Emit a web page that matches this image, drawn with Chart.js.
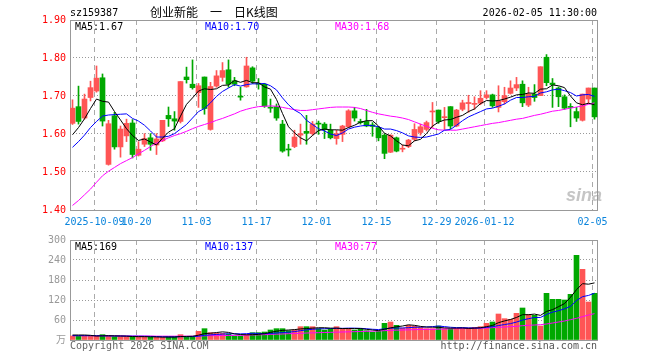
<!DOCTYPE html>
<html lang="zh-CN">

<head>
  <meta charset="UTF-8">
  <title>创业新能 日K线图</title>
  <script src="https://cdn.jsdelivr.net/npm/chart.js"></script>
  <style>
    body { margin: 0; background: #fff; }
    #wrap { position: relative; width: 660px; height: 360px; overflow: hidden;
      font-family: 'DejaVu Sans Mono', monospace; font-size: 10px; line-height: 10px; }
    canvas { position: absolute; left: 0; }
    .txt { position: absolute; white-space: pre; }
  </style>
</head>

<body>
  <div id="wrap">
    <canvas id="kChart" width="660" height="230" style="top:0"></canvas>
    <canvas id="volChart" width="660" height="130" style="top:230px"></canvas>

    <div class="txt" style="left:70px;top:8px;color:#000">sz159387</div>
    <div class="txt" style="left:150px;top:6px;font-family:'Noto Sans CJK SC',sans-serif;font-size:12px;line-height:12px;color:#000">创业新能　一　日K线图</div>
    <div class="txt" style="right:63px;top:8px;color:#000">2026-02-05 11:30:00</div>

    <div class="txt" style="left:75px;top:21.5px;color:#000">MA5:1.67</div>
    <div class="txt" style="left:205px;top:21.5px;color:#0000ff">MA10:1.70</div>
    <div class="txt" style="left:335px;top:21.5px;color:#ff00ff">MA30:1.68</div>

    <div class="txt" style="left:566px;top:186px;font-family:'Liberation Sans',sans-serif;font-size:18px;line-height:18px;font-weight:bold;font-style:italic;color:rgba(150,150,150,0.55)">sina</div>

    <div class="txt" style="left:75px;top:241.5px;color:#000">MA5:169</div>
    <div class="txt" style="left:205px;top:241.5px;color:#0000ff">MA10:137</div>
    <div class="txt" style="left:335px;top:241.5px;color:#ff00ff">MA30:77</div>

    <div class="txt" style="left:70px;top:341px;color:#666">Copyright 2026 SINA.COM</div>
    <div class="txt" style="right:63px;top:341px;color:#555">http://finance.sina.com.cn</div>
  </div>

  <script>
    var dates = [
      '2025-09-25', '2025-09-26', '2025-09-29', '2025-09-30',
      '2025-10-09', '2025-10-10', '2025-10-13', '2025-10-14', '2025-10-15', '2025-10-16', '2025-10-17',
      '2025-10-20', '2025-10-21', '2025-10-22', '2025-10-23', '2025-10-24', '2025-10-27', '2025-10-28',
      '2025-10-29', '2025-10-30', '2025-10-31',
      '2025-11-03', '2025-11-04', '2025-11-05', '2025-11-06', '2025-11-07', '2025-11-10', '2025-11-11',
      '2025-11-12', '2025-11-13', '2025-11-14', '2025-11-17', '2025-11-18', '2025-11-19', '2025-11-20',
      '2025-11-21', '2025-11-24', '2025-11-25', '2025-11-26', '2025-11-27', '2025-11-28',
      '2025-12-01', '2025-12-02', '2025-12-03', '2025-12-04', '2025-12-05', '2025-12-08', '2025-12-09',
      '2025-12-10', '2025-12-11', '2025-12-12', '2025-12-15', '2025-12-16', '2025-12-17', '2025-12-18',
      '2025-12-19', '2025-12-22', '2025-12-23', '2025-12-24', '2025-12-25', '2025-12-26', '2025-12-29',
      '2025-12-30', '2025-12-31',
      '2026-01-05', '2026-01-06', '2026-01-07', '2026-01-08', '2026-01-09', '2026-01-12', '2026-01-13',
      '2026-01-14', '2026-01-15', '2026-01-16', '2026-01-19', '2026-01-20', '2026-01-21', '2026-01-22',
      '2026-01-23', '2026-01-26', '2026-01-27', '2026-01-28', '2026-01-29', '2026-01-30',
      '2026-02-02', '2026-02-03', '2026-02-04', '2026-02-05'
    ];

    var opens = [
      1.628, 1.672, 1.642, 1.696, 1.713, 1.748, 1.520, 1.648, 1.566, 1.595,
      1.629, 1.544, 1.573, 1.590, 1.571, 1.582, 1.649, 1.640, 1.633, 1.750,
      1.731, 1.709, 1.750, 1.612, 1.726, 1.749, 1.769, 1.740, 1.699, 1.724,
      1.774, 1.733, 1.731, 1.670, 1.672, 1.626, 1.560, 1.567, 1.597, 1.607,
      1.601, 1.628, 1.626, 1.610, 1.588, 1.599, 1.619, 1.661, 1.633, 1.633,
      1.624, 1.617, 1.597, 1.552, 1.590, 1.560, 1.567, 1.586, 1.604, 1.612,
      1.658, 1.663, 1.643, 1.672, 1.621, 1.665, 1.680, 1.678, 1.681, 1.696,
      1.703, 1.670, 1.685, 1.707, 1.721, 1.731, 1.676, 1.705, 1.701, 1.802,
      1.734, 1.721, 1.698, 1.672, 1.659, 1.636, 1.692, 1.721
    ];
    var highs = [
      1.690, 1.726, 1.705, 1.739, 1.779, 1.758, 1.636, 1.657, 1.621, 1.639,
      1.638, 1.580, 1.601, 1.601, 1.601, 1.636, 1.671, 1.659, 1.738, 1.776,
      1.795, 1.733, 1.750, 1.736, 1.767, 1.788, 1.795, 1.749, 1.723, 1.802,
      1.777, 1.746, 1.733, 1.692, 1.679, 1.636, 1.573, 1.610, 1.626, 1.649,
      1.633, 1.634, 1.630, 1.626, 1.610, 1.623, 1.664, 1.670, 1.639, 1.665,
      1.630, 1.619, 1.601, 1.598, 1.592, 1.571, 1.586, 1.627, 1.626, 1.634,
      1.683, 1.663, 1.670, 1.672, 1.665, 1.689, 1.702, 1.698, 1.714, 1.714,
      1.705, 1.727, 1.723, 1.740, 1.749, 1.740, 1.723, 1.730, 1.777, 1.809,
      1.746, 1.724, 1.703, 1.680, 1.670, 1.705, 1.721, 1.721
    ];
    var lows = [
      1.625, 1.626, 1.639, 1.687, 1.710, 1.621, 1.518, 1.560, 1.539, 1.580,
      1.537, 1.542, 1.567, 1.557, 1.546, 1.580, 1.620, 1.610, 1.629, 1.734,
      1.718, 1.670, 1.652, 1.610, 1.723, 1.739, 1.723, 1.727, 1.689, 1.723,
      1.733, 1.718, 1.670, 1.657, 1.636, 1.552, 1.542, 1.564, 1.573, 1.573,
      1.597, 1.599, 1.588, 1.587, 1.573, 1.580, 1.617, 1.634, 1.626, 1.619,
      1.594, 1.582, 1.535, 1.551, 1.553, 1.553, 1.564, 1.582, 1.597, 1.608,
      1.617, 1.628, 1.612, 1.614, 1.619, 1.661, 1.657, 1.665, 1.677, 1.692,
      1.670, 1.658, 1.679, 1.705, 1.714, 1.672, 1.672, 1.686, 1.701, 1.727,
      1.670, 1.672, 1.665, 1.619, 1.633, 1.634, 1.680, 1.639
    ];
    var closes = [
      1.668, 1.633, 1.692, 1.722, 1.747, 1.634, 1.627, 1.566, 1.613, 1.628,
      1.546, 1.560, 1.588, 1.573, 1.587, 1.636, 1.640, 1.634, 1.738, 1.743,
      1.722, 1.727, 1.667, 1.725, 1.753, 1.767, 1.731, 1.731, 1.697, 1.779,
      1.739, 1.731, 1.673, 1.668, 1.642, 1.555, 1.558, 1.592, 1.601, 1.602,
      1.626, 1.626, 1.612, 1.590, 1.601, 1.621, 1.661, 1.642, 1.630, 1.621,
      1.620, 1.590, 1.549, 1.597, 1.555, 1.562, 1.584, 1.612, 1.619, 1.630,
      1.660, 1.633, 1.645, 1.621, 1.663, 1.682, 1.683, 1.680, 1.694, 1.703,
      1.674, 1.687, 1.701, 1.721, 1.730, 1.682, 1.705, 1.696, 1.777, 1.735,
      1.730, 1.698, 1.668, 1.670, 1.642, 1.705, 1.721, 1.645
    ];

    var ma5 = [
      1.598, 1.617, 1.640, 1.667, 1.692, 1.686, 1.684, 1.659, 1.637, 1.614,
      1.596, 1.583, 1.587, 1.579, 1.571, 1.589, 1.605, 1.614, 1.647, 1.678,
      1.695, 1.713, 1.719, 1.717, 1.719, 1.728, 1.729, 1.741, 1.736, 1.741,
      1.735, 1.735, 1.724, 1.718, 1.691, 1.654, 1.619, 1.603, 1.590, 1.582,
      1.596, 1.609, 1.613, 1.611, 1.611, 1.610, 1.617, 1.623, 1.631, 1.635,
      1.635, 1.621, 1.602, 1.595, 1.582, 1.571, 1.569, 1.582, 1.586, 1.601,
      1.621, 1.631, 1.637, 1.638, 1.644, 1.649, 1.659, 1.666, 1.680, 1.688,
      1.687, 1.688, 1.692, 1.697, 1.703, 1.704, 1.708, 1.707, 1.718, 1.719,
      1.729, 1.727, 1.722, 1.700, 1.682, 1.677, 1.681, 1.677
    ];
    var ma10 = [
      1.565, 1.580, 1.597, 1.617, 1.633, 1.647, 1.650, 1.651, 1.652, 1.653,
      1.641, 1.634, 1.623, 1.608, 1.592, 1.592, 1.594, 1.601, 1.613, 1.625,
      1.642, 1.659, 1.667, 1.682, 1.699, 1.712, 1.721, 1.730, 1.726, 1.730,
      1.732, 1.732, 1.733, 1.727, 1.716, 1.695, 1.677, 1.663, 1.654, 1.636,
      1.625, 1.614, 1.608, 1.600, 1.596, 1.603, 1.613, 1.618, 1.621, 1.623,
      1.622, 1.619, 1.613, 1.613, 1.609, 1.603, 1.595, 1.592, 1.591, 1.592,
      1.596, 1.600, 1.610, 1.612, 1.623, 1.635, 1.645, 1.652, 1.659, 1.666,
      1.668, 1.673, 1.679, 1.689, 1.696, 1.696, 1.698, 1.699, 1.708, 1.711,
      1.716, 1.718, 1.714, 1.709, 1.700, 1.703, 1.704, 1.699
    ];
    var ma30 = [
      1.412, 1.425, 1.440, 1.455, 1.473, 1.490, 1.502, 1.512, 1.522, 1.530,
      1.538, 1.548, 1.557, 1.567, 1.576, 1.583, 1.590, 1.596, 1.601, 1.607,
      1.614, 1.620, 1.625, 1.630, 1.636, 1.641, 1.647, 1.653, 1.660, 1.665,
      1.669, 1.672, 1.673, 1.674, 1.673, 1.670, 1.667, 1.664, 1.662, 1.662,
      1.664, 1.666, 1.668, 1.670, 1.671, 1.671, 1.671, 1.670, 1.667, 1.662,
      1.657, 1.653, 1.650, 1.647, 1.645, 1.642, 1.638, 1.632, 1.626, 1.620,
      1.615, 1.611, 1.610, 1.610, 1.610, 1.613, 1.616, 1.619, 1.622, 1.625,
      1.628, 1.630, 1.633, 1.636, 1.639, 1.641, 1.645, 1.649, 1.652, 1.656,
      1.660, 1.662, 1.665, 1.668, 1.671, 1.674, 1.678, 1.682
    ];

    // volume in 万手
    var volumes = [
      12, 11, 12, 12, 12, 16, 12, 10, 10, 10,
      10, 10, 10, 8, 8, 8, 10, 10, 16, 10,
      10, 26, 34, 22, 20, 20, 18, 12, 12, 16,
      22, 22, 24, 30, 34, 34, 28, 30, 40, 40,
      40, 34, 30, 34, 40, 34, 34, 30, 34, 28,
      24, 26, 50, 54, 44, 36, 44, 42, 38, 34,
      34, 42, 34, 34, 34, 36, 36, 38, 40, 50,
      54, 78, 64, 62, 80, 96, 77, 74, 42, 140,
      122, 122, 120, 137, 254, 212, 114, 140
    ];
    var volMa5 = [
      15, 15, 15, 14, 11.8, 12.6, 12.8, 12.4, 12, 11.6,
      10.4, 10, 10, 9.6, 9.2, 8.8, 8.8, 8.8, 10.4, 10.8,
      11.2, 14.4, 19.2, 20.4, 22.4, 24.4, 22.8, 18.4, 16.4, 15.6,
      16, 16.8, 19.2, 22.8, 26.4, 28.8, 30, 31.2, 33.2, 34.4,
      35.6, 36.8, 36.8, 35.6, 35.6, 34.4, 34.4, 34.4, 34.4, 32,
      30, 28.4, 32.4, 36.4, 39.6, 42, 45.6, 44, 40.8, 38.8,
      38.4, 38, 36.4, 35.6, 35.6, 36, 34.8, 35.6, 36.8, 40,
      43.6, 52, 57.2, 61.6, 67.6, 76, 75.8, 77.8, 73.8, 85.8,
      91, 100, 109.2, 128.2, 151, 169, 167.4, 171.4
    ];
    var volMa10 = [
      13, 13, 13, 13, 13, 12.5, 12.5, 12, 12, 11.7,
      11.5, 11.4, 11.2, 10.8, 10.4, 9.6, 9.4, 9.4, 10, 10,
      10, 11.6, 14, 15.4, 16.6, 17.8, 18.6, 18.8, 18.4, 19,
      20.2, 19.8, 18.8, 19.6, 21, 22.4, 23.4, 25.2, 28, 30.4,
      32.2, 33.4, 34, 34.4, 35, 35, 35.6, 35.6, 35, 33.8,
      32.2, 31.4, 33.4, 35.4, 35.8, 36, 37, 38.2, 38.6, 39.2,
      40.2, 41.8, 40.2, 38.2, 37.2, 37.2, 36.4, 36, 36.2, 37.8,
      39.8, 43.4, 46.4, 49.2, 53.8, 59.8, 63.9, 67.5, 67.7, 76.7,
      83.5, 87.9, 93.5, 101, 118.4, 130, 133.7, 140.3
    ];
    var volMa30 = [
      13, 13, 13, 13, 13, 12.5, 12.5, 12.5, 12.5, 12,
      12, 12, 12, 12, 11.5, 11.5, 11.5, 11.5, 11.5, 11.5,
      11.5, 12, 12.5, 13, 13, 13.5, 13.5, 14, 14, 14.5,
      15, 15.5, 16, 17, 17.5, 18, 19, 19.5, 20, 21,
      21.5, 22, 22.5, 23, 23.5, 24, 24.5, 25, 25.5, 26,
      26.5, 27, 28, 29, 29.5, 30, 30.5, 31, 31.5, 32,
      32, 32.5, 33, 33.5, 34, 34, 34.5, 35, 35.5, 36,
      37, 38, 39, 40, 41, 43, 44, 45, 46, 48,
      51, 54, 57, 61, 65, 70, 75, 79
    ];

    var tickDates = ['2025-10-09', '2025-10-20', '2025-11-03', '2025-11-17', '2025-12-01',
      '2025-12-15', '2025-12-29', '2026-01-12', '2026-02-05'];
    var tickLabels = ['2025-10-09', '10-20', '11-03', '11-17', '12-01', '12-15', '12-29', '2026-01-12', '02-05'];

    var priceMin = 1.40, priceMax = 1.90, priceStep = 0.10;
    var volMin = 0, volMax = 300, volStep = 60;

    var upColor = '#ff5555';
    var downColor = '#00a800';
    var monoFont = { family: "'DejaVu Sans Mono', monospace", size: 10 };

    var candleColors = closes.map(function (c, i) { return c >= opens[i] ? upColor : downColor; });

    // grey frame round the plot area
    var framePlugin = {
      id: 'frame',
      beforeDatasetsDraw: function (chart) {
        var a = chart.chartArea, ctx = chart.ctx;
        ctx.save();
        ctx.strokeStyle = '#999';
        ctx.lineWidth = 1;
        ctx.setLineDash([]);
        ctx.strokeRect(a.left + 0.5, a.top + 0.5, a.right - a.left - 1, a.bottom - a.top);
        ctx.restore();
      }
    };

    function xAxis(showLabels) {
      return {
        type: 'linear',
        bounds: 'data',
        offset: false,
        min: -5 / 12,
        max: dates.length - 5 / 12,
        afterBuildTicks: function (scale) {
          // grid line sits on the left edge of the labelled candle
          scale.ticks = tickDates.map(function (d) { return { value: dates.indexOf(d) - 1 / 3 }; });
        },
        afterFit: function (scale) { scale.height = showLabels ? 20 : 0; },
        ticks: {
          display: showLabels,
          autoSkip: false,
          maxRotation: 0,
          minRotation: 0,
          padding: 6,
          color: '#0a84dc',
          font: monoFont,
          callback: function (value, index) { return tickLabels[index]; }
        },
        grid: { color: '#aaa', drawTicks: false, offset: false },
        border: { display: false, dash: [5, 4] }
      };
    }

    function lineSet(values, color) {
      return {
        type: 'line',
        data: values.map(function (v, i) { return { x: i, y: v }; }),
        borderColor: color,
        borderWidth: 1,
        pointRadius: 0,
        tension: 0,
        order: 0
      };
    }

    var baseOptions = {
      responsive: false,
      devicePixelRatio: 1,
      animation: false,
      events: [],
      plugins: { legend: { display: false }, tooltip: { enabled: false } }
    };

    new Chart(document.getElementById('kChart'), {
      type: 'bar',
      data: {
        datasets: [
          lineSet(ma5, '#000000'),
          lineSet(ma10, '#0000ff'),
          lineSet(ma30, '#ff00ff'),
          {
            data: opens.map(function (o, i) { return { x: i, y: [o, closes[i]] }; }),
            backgroundColor: candleColors,
            barThickness: 5,
            minBarLength: 1,
            grouped: false,
            order: 1
          },
          {
            data: lows.map(function (l, i) { return { x: i, y: [l, highs[i]] }; }),
            backgroundColor: candleColors,
            barThickness: 1,
            minBarLength: 1,
            grouped: false,
            order: 2
          }
        ]
      },
      options: Object.assign({}, baseOptions, {
        layout: { padding: { left: 0, right: 62, top: 20, bottom: 0 } },
        scales: {
          x: xAxis(true),
          y: {
            min: priceMin,
            max: priceMax,
            afterFit: function (scale) { scale.width = 70; },
            ticks: {
              stepSize: priceStep,
              padding: 4,
              color: '#ff0000',
              font: monoFont,
              callback: function (v) { return Number(v).toFixed(2); }
            },
            grid: { color: '#999', drawTicks: false },
            border: { display: false, dash: [1, 2] }
          }
        }
      }),
      plugins: [framePlugin]
    });

    new Chart(document.getElementById('volChart'), {
      type: 'bar',
      data: {
        datasets: [
          lineSet(volMa5, '#000000'),
          lineSet(volMa10, '#0000ff'),
          lineSet(volMa30, '#ff00ff'),
          {
            data: volumes.map(function (v, i) { return { x: i, y: v }; }),
            backgroundColor: candleColors,
            barThickness: 5,
            grouped: false,
            order: 1
          }
        ]
      },
      options: Object.assign({}, baseOptions, {
        layout: { padding: { left: 0, right: 62, top: 10, bottom: 20 } },
        scales: {
          x: xAxis(false),
          y: {
            min: volMin,
            max: volMax,
            afterFit: function (scale) { scale.width = 70; },
            ticks: {
              stepSize: volStep,
              padding: 4,
              color: '#999',
              font: monoFont,
              callback: function (v) { return v === 0 ? '万' : v; }
            },
            grid: { color: '#999', drawTicks: false },
            border: { display: false, dash: [1, 2] }
          }
        }
      }),
      plugins: [framePlugin]
    });
  </script>
</body>

</html>
